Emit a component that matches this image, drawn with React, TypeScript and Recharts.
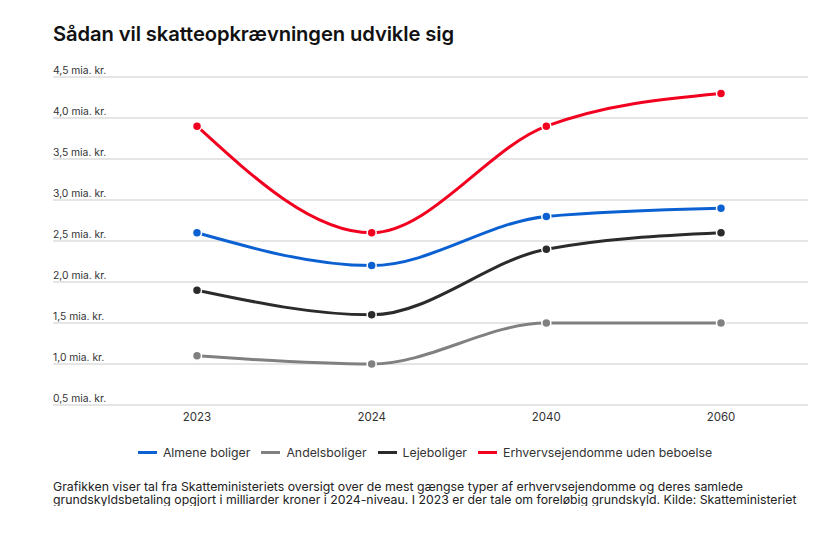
import React from "react";
import { LineChart, Line, XAxis, YAxis, CartesianGrid } from "recharts";

const years = ["2023", "2024", "2040", "2060"];
const almene = [2.6, 2.2, 2.8, 2.9];
const andels = [1.1, 1.0, 1.5, 1.5];
const leje = [1.9, 1.6, 2.4, 2.6];
const erhverv = [3.9, 2.6, 3.9, 4.3];
const yTicks = [0.5, 1.0, 1.5, 2.0, 2.5, 3.0, 3.5, 4.0, 4.5];

const series = [
  { key: "almene", name: "Almene boliger", color: "#0b61d2", values: almene },
  { key: "andels", name: "Andelsboliger", color: "#808080", values: andels },
  { key: "leje", name: "Lejeboliger", color: "#2b2b2b", values: leje },
  { key: "erhverv", name: "Erhvervsejendomme uden beboelse", color: "#f2001f", values: erhverv },
];

const data = years.map((y, i) => {
  const row: any = { year: y };
  series.forEach((s) => (row[s.key] = s.values[i]));
  return row;
});

const FONT = "Inter, 'Noto Sans', sans-serif";

const YTick = (props: any) => {
  const { y, payload } = props;
  const label = Number(payload.value).toFixed(1).replace(".", ",") + " mia. kr.";
  return (
    <text x={53} y={y - 3} fontSize={10.3} fill="#333" fontFamily={FONT} textAnchor="start">
      {label}
    </text>
  );
};

export default function App() {
  return (
    <div style={{ position: "absolute", left: 0, top: 0, width: 828, height: 534, background: "#fff", fontFamily: FONT }}>
      <div style={{ position: "absolute", left: 53, top: 21, fontSize: 20.2, fontWeight: 600, color: "#111", letterSpacing: -0.1 }}>
        Sådan vil skatteopkrævningen udvikle sig
      </div>
      <div style={{ position: "absolute", left: 0, top: 0 }}>
        <LineChart width={828} height={430} data={data} margin={{ top: 77, right: 20, left: 0, bottom: 0 }}>
          <CartesianGrid vertical={false} stroke="#dddddd" strokeWidth={1.3} />
          <XAxis
            dataKey="year"
            axisLine={false}
            tickLine={false}
            height={25}
            padding={{ left: 144, right: 87 }}
            tick={{ fontSize: 11.5, fill: "#333", fontFamily: FONT }}
            tickMargin={2}
          />
          <YAxis
            domain={[0.5, 4.5]}
            ticks={yTicks}
            width={53}
            axisLine={false}
            tickLine={false}
            tick={YTick}
          />
          {series.map((s) => (
            <Line
              key={s.key}
              dataKey={s.key}
              name={s.name}
              type="monotone"
              stroke={s.color}
              strokeWidth={3}
              dot={{ r: 4.5, fill: s.color, stroke: "#fff", strokeWidth: 1.5 }}
              activeDot={false}
              isAnimationActive={false}
            />
          ))}
        </LineChart>
      </div>
      <div style={{ position: "absolute", left: 53, width: 755, top: 445, display: "flex", justifyContent: "center", fontSize: 12.3, color: "#333" }}>
        {series.map((s) => (
          <div key={s.key} style={{ display: "flex", alignItems: "center", marginRight: 11 }}>
            <div style={{ width: 19, height: 3, background: s.color, marginRight: 6 }} />
            <span>{s.name}</span>
          </div>
        ))}
      </div>
      <div style={{ position: "absolute", left: 53, top: 481, width: 745, height: 25, overflow: "hidden", fontSize: 12.3, lineHeight: "12.5px", color: "#222" }}>
        Grafikken viser tal fra Skatteministeriets oversigt over de mest gængse typer af erhvervsejendomme og deres samlede grundskyldsbetaling opgjort i milliarder kroner i 2024-niveau. I 2023 er der tale om foreløbig grundskyld. Kilde: Skatteministeriet
      </div>
    </div>
  );
}
